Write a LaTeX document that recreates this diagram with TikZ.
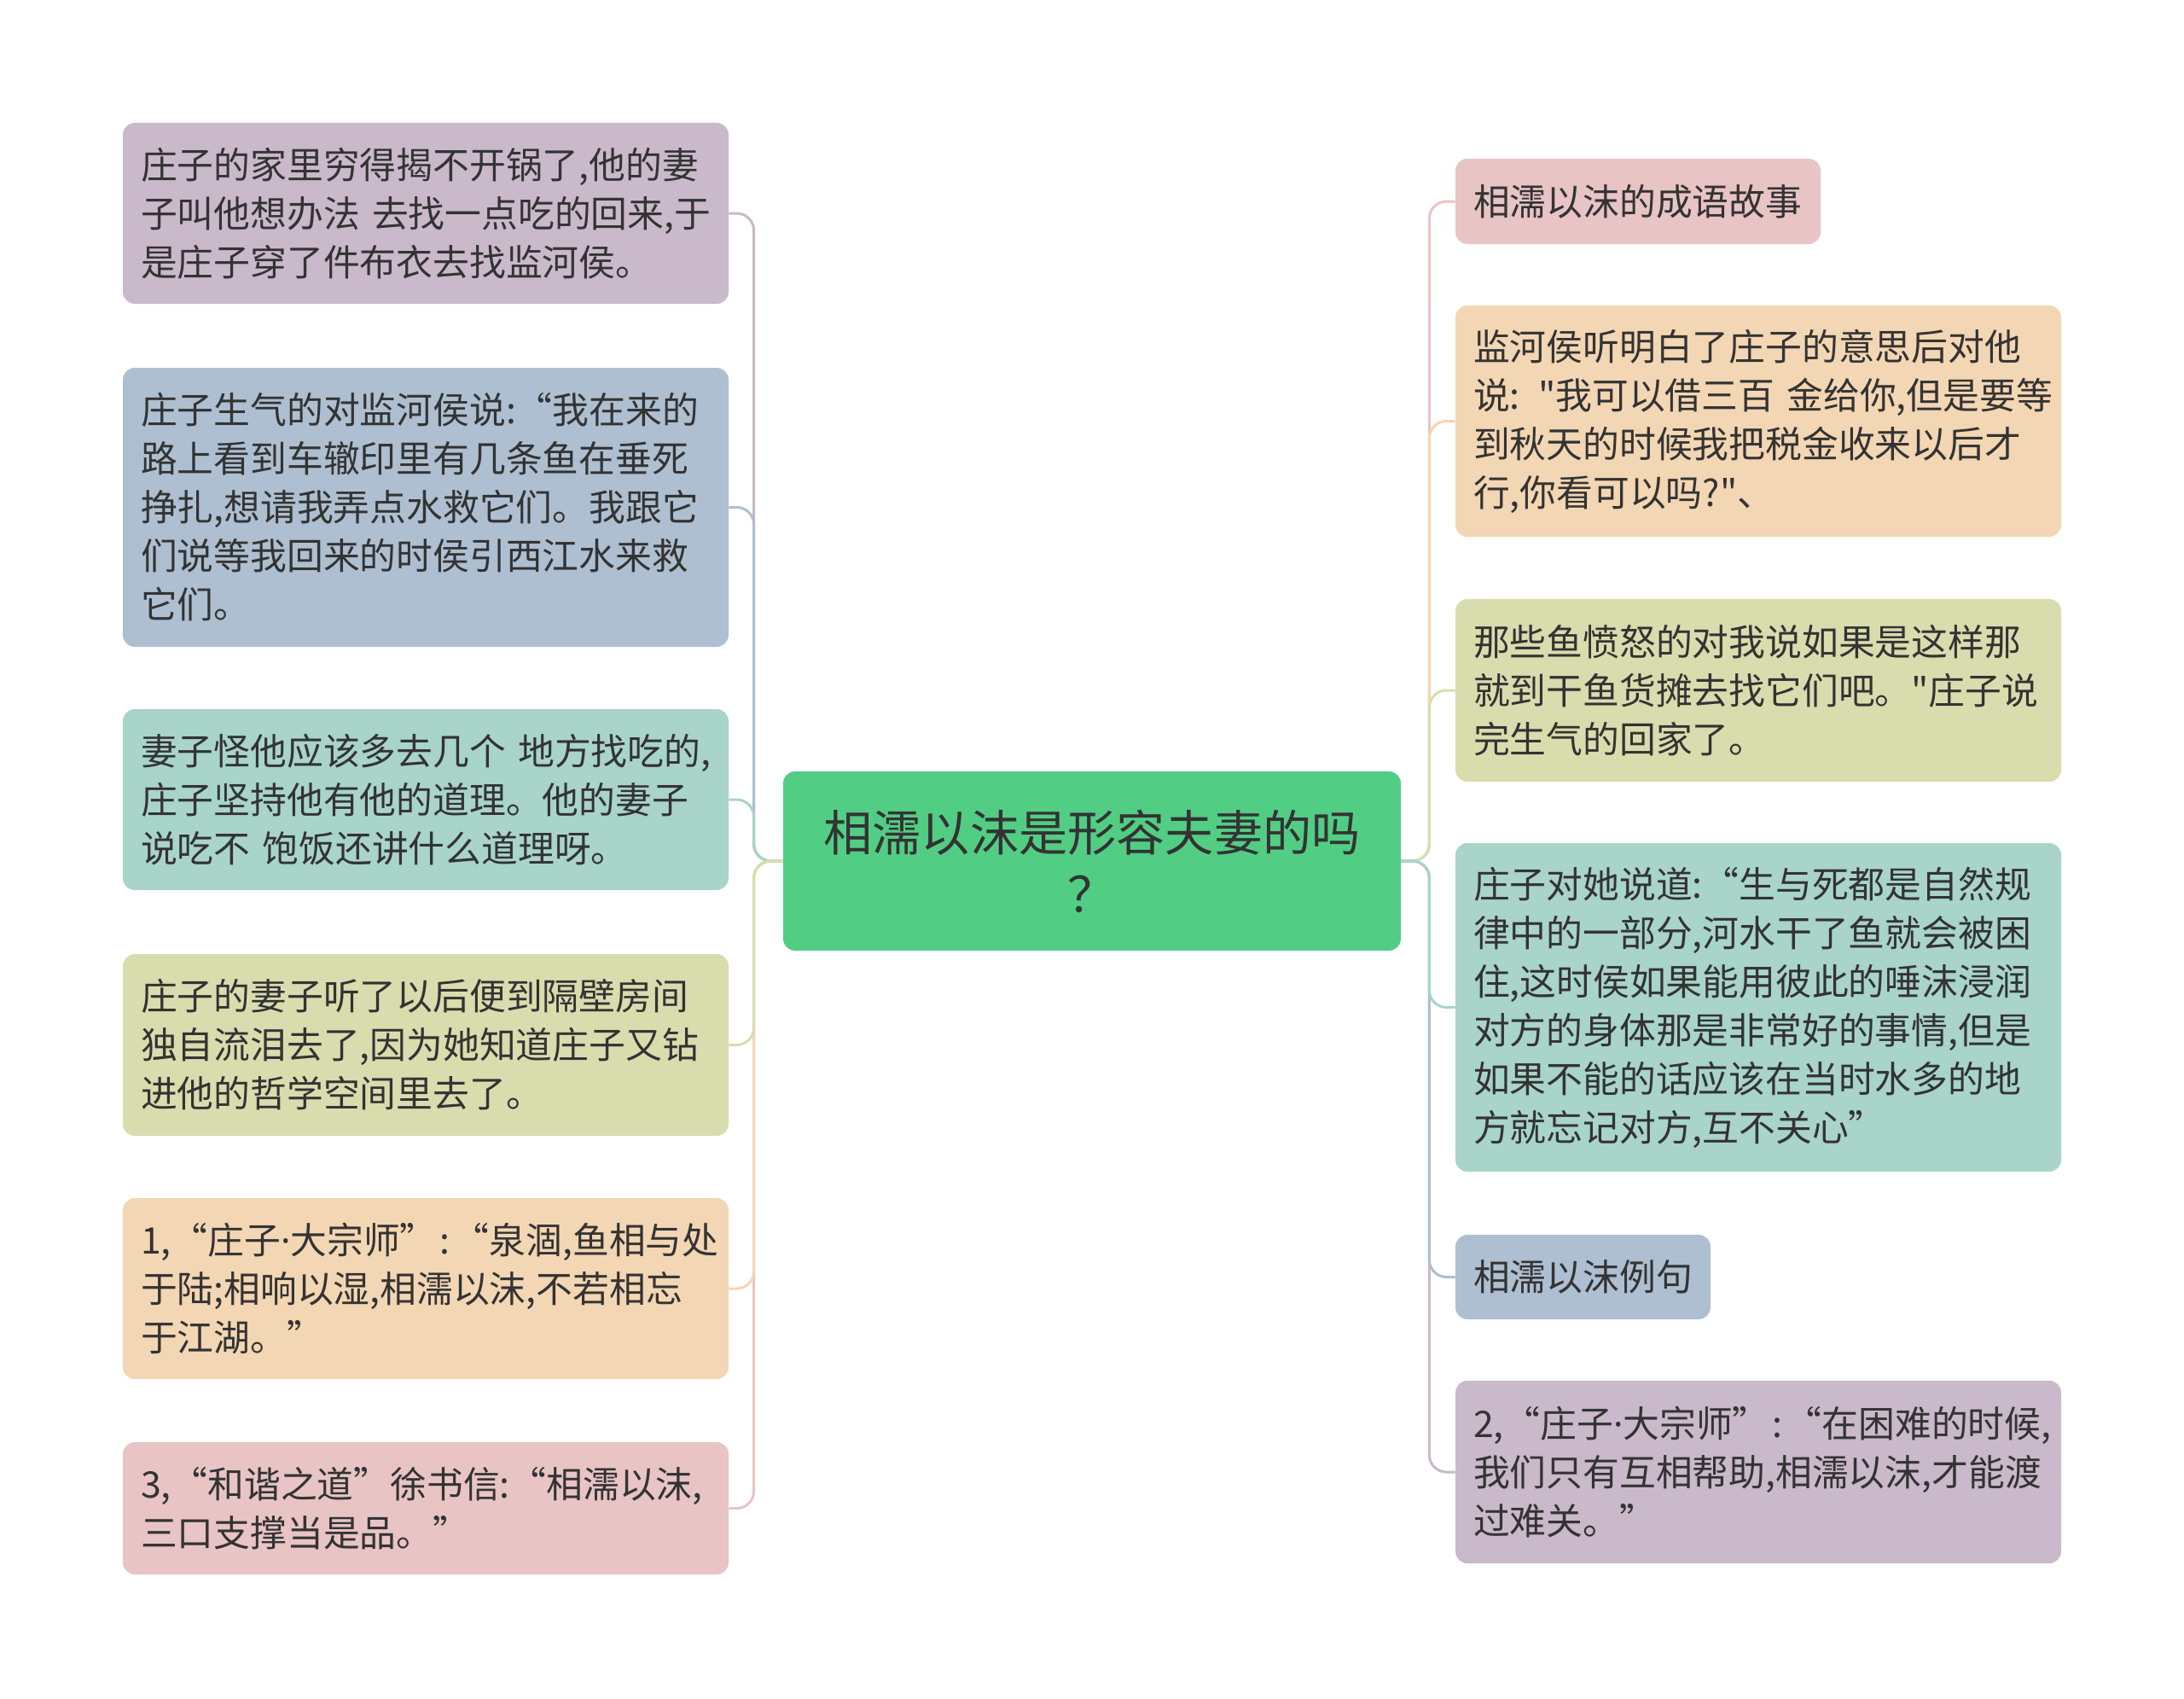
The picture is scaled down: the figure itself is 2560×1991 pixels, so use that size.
\documentclass[tikz,border=0pt]{standalone}
\usepackage{fontspec}
\setmainfont{Noto Sans CJK SC}[Ligatures=TeXOff]
\newfontfamily\latf{Noto Sans}[Ligatures=TeXOff]
\newcommand\mydot{{\latf ·}}
\newcommand\mycolon{\makebox[0.45em]{:}}
\definecolor{cpurple}{HTML}{C9B9CA}
\definecolor{cblue}{HTML}{AEBFD1}
\definecolor{cteal}{HTML}{A8D4CA}
\definecolor{colive}{HTML}{D9DCAD}
\definecolor{cpeach}{HTML}{F3D6B3}
\definecolor{cpink}{HTML}{E8C4C5}
\definecolor{cgreen}{HTML}{52CD84}
\definecolor{ctext}{HTML}{333333}
\begin{document}
\begin{tikzpicture}[x=0.5pt,y=-0.5pt,
  box/.style={rounded corners=7pt, inner xsep=10.5pt, inner ysep=0pt, align=left,
    text=ctext, font=\fontsize{21.4pt}{28.5pt}\selectfont, anchor=center},
  wide/.style={text width=334pt},
  link/.style={line width=1.5pt, rounded corners=10pt}]
\useasboundingbox (0,0) rectangle (2560,1991);
% centre
\node[box, fill=cgreen, align=center, text width=341pt, minimum height=105pt,
  font=\fontsize{28.6pt}{36pt}\selectfont] (C) at (1280,1009)
  {相濡以沫是形容夫妻的吗\\？};
% left
\node[box, wide, fill=cpurple, minimum height=106pt] (L1) at (499,250)
  {\mbox{庄子的家里穷得揭不开锅了,他的妻}\\\mbox{子叫他想办法 去找一点吃的回来,于}\\\mbox{是庄子穿了件布衣去找监河侯。}};
\node[box, wide, fill=cblue, minimum height=163.5pt] (L2) at (499,594.5)
  {\mbox{庄子生气的对监河侯说:“我在来的}\\\mbox{路上看到车辙印里有几条鱼在垂死}\\\mbox{挣扎,想请我弄点水救它们。我跟它}\\\mbox{们说等我回来的时侯引西江水来救}\\\mbox{它们。}};
\node[box, wide, fill=cteal, minimum height=106pt] (L3) at (499,937)
  {\mbox{妻子怪他应该多去几个 地方找吃的,}\\\mbox{庄子坚持他有他的道理。他的妻子}\\\mbox{说吃不 饱饭还讲什么道理呀。}};
\node[box, wide, fill=colive, minimum height=106.5pt] (L4) at (499,1224.5)
  {\mbox{庄子的妻子听了以后便到隔壁房间}\\\mbox{独自流泪去了,因为她知道庄子又钻}\\\mbox{进他的哲学空间里去了。}};
\node[box, wide, fill=cpeach, minimum height=106pt] (L5) at (499,1510)
  {\mbox{1,“庄子\mydot 大宗师”\mycolon“泉涸,鱼相与处}\\\mbox{于陆;相响以湿,相濡以沫,不若相忘}\\\mbox{于江湖。”}};
\node[box, wide, fill=cpink, minimum height=77.5pt] (L6) at (499,1767.5)
  {\mbox{3,“和谐之道”徐书信:“相濡以沫,}\\\mbox{三口支撑当是品。”}};
% right
\node[box, text width=193pt, fill=cpink, minimum height=50pt] (R1) at (1920,236)
  {\mbox{相濡以沫的成语故事}};
\node[box, wide, fill=cpeach, minimum height=135.5pt] (R2) at (2061,493.5)
  {\mbox{监河侯听明白了庄子的意思后对他}\\\mbox{说: "我可以借三百 金给你,但是要等}\\\mbox{到秋天的时候我把税金收来以后才}\\\mbox{行,你看可以吗?"、}};
\node[box, wide, fill=colive, minimum height=107pt] (R3) at (2061,809)
  {\mbox{那些鱼愤怒的对我说如果是这样那}\\\mbox{就到干鱼货摊去找它们吧。"庄子说}\\\mbox{完生气的回家了。}};
\node[box, wide, fill=cteal, minimum height=192.5pt] (R4) at (2061,1180.5)
  {\mbox{庄子对她说道:“生与死都是自然规}\\\mbox{律中的一部分,河水干了鱼就会被困}\\\mbox{住,这时侯如果能用彼此的唾沫浸润}\\\mbox{对方的身体那是非常好的事情,但是}\\\mbox{如果不能的话应该在当时水多的地}\\\mbox{方就忘记对方,互不关心”}};
\node[box, text width=128.5pt, fill=cblue, minimum height=49.5pt] (R5) at (1855.5,1496.5)
  {\mbox{相濡以沫例句}};
\node[box, wide, fill=cpurple, minimum height=107pt] (R6) at (2061,1725)
  {\mbox{2,“庄子\mydot 大宗师”\mycolon“在困难的时候,}\\\mbox{我们只有互相帮助,相濡以沫,才能渡}\\\mbox{过难关。”}};
% connectors left (outer first)
\draw[link, cpurple] (C.west) -- ++(-34,0) |- (L1.east);
\draw[link, cblue] (C.west) -- ++(-34,0) |- (L2.east);
\draw[link, cteal] (C.west) -- ++(-34,0) |- (L3.east);
\draw[link, cpink] (C.west) -- ++(-34,0) |- (L6.east);
\draw[link, cpeach] (C.west) -- ++(-34,0) |- (L5.east);
\draw[link, colive] (C.west) -- ++(-34,0) |- (L4.east);
% connectors right
\draw[link, cpink] (C.east) -- ++(33,0) |- (R1.west);
\draw[link, cpeach] (C.east) -- ++(33,0) |- (R2.west);
\draw[link, colive] (C.east) -- ++(33,0) |- (R3.west);
\draw[link, cpurple] (C.east) -- ++(33,0) |- (R6.west);
\draw[link, cblue] (C.east) -- ++(33,0) |- (R5.west);
\draw[link, cteal] (C.east) -- ++(33,0) |- (R4.west);
\end{tikzpicture}
\end{document}
